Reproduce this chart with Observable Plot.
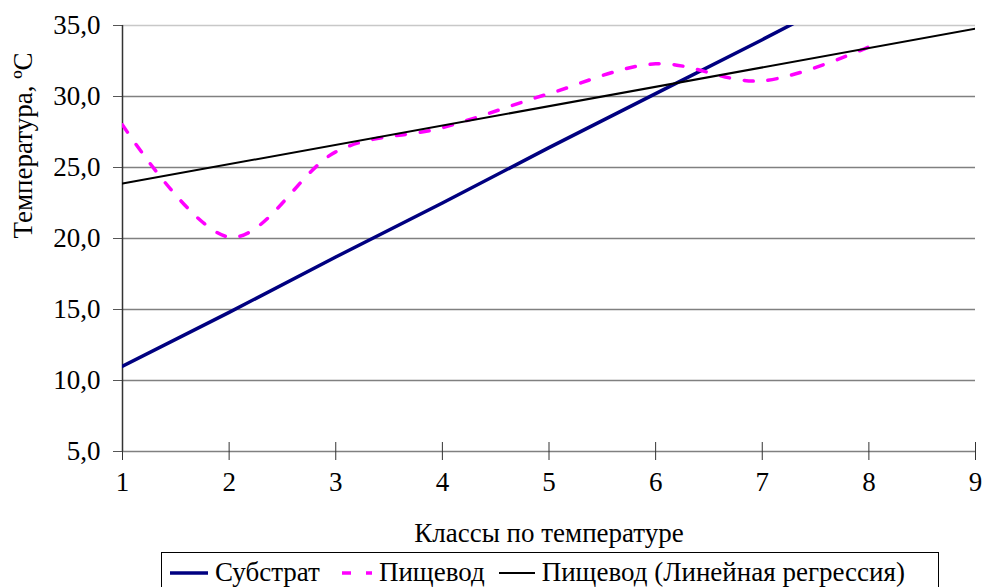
<!DOCTYPE html>
<html>
<head>
<meta charset="utf-8">
<script src="https://cdn.jsdelivr.net/npm/d3@7"></script>
<script src="https://cdn.jsdelivr.net/npm/@observablehq/plot@0.6"></script>
<style>
  html, body { margin: 0; padding: 0; background: #fff; }
  body { width: 984px; height: 587px; overflow: hidden; font-family: "Times New Roman", Times, "Liberation Serif", Tinos, "Nimbus Roman", "FreeSerif", serif; }
  #legend {
    box-sizing: border-box;
    margin-left: 161px; width: 778px; height: 40px;
    border: 1px solid #000; border-bottom: none;
    display: flex; align-items: center; padding-left: 8px;
    font-size: 27px; color: #000; white-space: nowrap;
  }
  #legend .item { display: flex; align-items: center; margin-right: 14px; }
  #legend svg { margin-right: 7px; }
</style>
</head>
<body>
<div id="chart"></div>
<div id="legend"></div>
<script>
// Temperature classes and measured temperatures
const classes = [1, 2, 3, 4, 5, 6, 7, 8];
const substrate = [11.0, 14.8, 18.7, 22.5, 26.4, 30.2, 34.0, 37.9];
const esophagus = [28.0, 20.1, 26.1, 27.8, 30.2, 32.3, 31.1, 33.5];
const yTicks = [5, 10, 15, 20, 25, 30, 35];
const xTicks = [1, 2, 3, 4, 5, 6, 7, 8, 9];

const labels = {
  substrate: "Субстрат",
  esophagus: "Пищевод",
  trend: "Пищевод (Линейная регрессия)",
  x: "Классы по температуре",
  y: "Температура, ºC"
};

const colors = { substrate: "#000080", esophagus: "#ff00ff", trend: "#000000" };
const serif = "'Times New Roman', Times, 'Liberation Serif', Tinos, 'Nimbus Roman', FreeSerif, serif";

const subData = classes.map((c, i) => ({ x: c, y: substrate[i] }));
const escData = classes.map((c, i) => ({ x: c, y: esophagus[i] }));

// Least-squares trend of the esophagus series, extended to the last class
const mx = d3.mean(classes), my = d3.mean(esophagus);
const slope = d3.sum(classes, (c, i) => (c - mx) * (esophagus[i] - my)) /
              d3.sum(classes, c => (c - mx) ** 2);
const intercept = my - slope * mx;
const trendData = [1, 9].map(x => ({ x, y: intercept + slope * x }));

const fmt = v => d3.format(".1f")(v).replace(".", ",");

const chart = Plot.plot({
  width: 984,
  height: 552,
  marginLeft: 122,
  marginRight: 9,
  marginTop: 25,
  marginBottom: 101,
  style: { fontFamily: serif, fontSize: "27px", color: "#000", background: "#fff" },
  x: { domain: [1, 9] },
  y: { domain: [5, 35] },
  marks: [
    Plot.ruleY(yTicks.filter(v => v > 5 && v < 35), { y: d => d, stroke: "#808080", strokeWidth: 1.5 }),
    Plot.ruleY([35], { stroke: "#c8c8c8", strokeWidth: 1.5 }),
    Plot.ruleY([5], { stroke: "#808080", strokeWidth: 1.5 }),
    Plot.axisY({ ticks: yTicks, tickFormat: fmt, tickSize: 9, tickPadding: 13, label: null, stroke: "#555", fontFamily: serif }),
    Plot.axisX({ ticks: xTicks, tickSize: 18, dy: -9, text: null, label: null, stroke: "#333" }),
    Plot.axisX({ ticks: xTicks, tickSize: 0, tickPadding: 20, tickFormat: d => String(d), label: null, fontFamily: serif }),
    Plot.ruleX([1], { stroke: "#333", strokeWidth: 1.5 }),
    Plot.line(subData, { x: "x", y: "y", stroke: colors.substrate, strokeWidth: 3.5, clip: true }),
    Plot.line(escData, { x: "x", y: "y", stroke: colors.esophagus, strokeWidth: 3.5, curve: "cardinal", strokeDasharray: "9,15", clip: true }),
    Plot.line(trendData, { x: "x", y: "y", stroke: colors.trend, strokeWidth: 2, clip: true }),
    Plot.text([labels.x], { text: d => d, frameAnchor: "bottom", dy: 90, fill: "#000", fontFamily: serif }),
    Plot.text([labels.y], { text: d => d, frameAnchor: "left", dx: -99, rotate: -90, fill: "#000", fontFamily: serif })
  ]
});
document.getElementById("chart").appendChild(chart);

// Legend below the chart
const legendItems = [
  { key: "substrate", label: labels.substrate, width: 3.5, dash: null, w: 38 },
  { key: "esophagus", label: labels.esophagus, width: 3.5, dash: "9,15", w: 38 },
  { key: "trend", label: labels.trend, width: 2, dash: null, w: 36 }
];
const legend = d3.select("#legend");
for (const it of legendItems) {
  const item = legend.append("div").attr("class", "item");
  const s = item.append("svg").attr("width", it.w).attr("height", 10);
  const ln = s.append("line").attr("x1", 0).attr("x2", it.w).attr("y1", 5).attr("y2", 5)
    .attr("stroke", colors[it.key]).attr("stroke-width", it.width);
  if (it.dash) ln.attr("stroke-dasharray", it.dash).attr("stroke-dashoffset", -8);
  item.append("span").text(it.label);
}
</script>
</body>
</html>
